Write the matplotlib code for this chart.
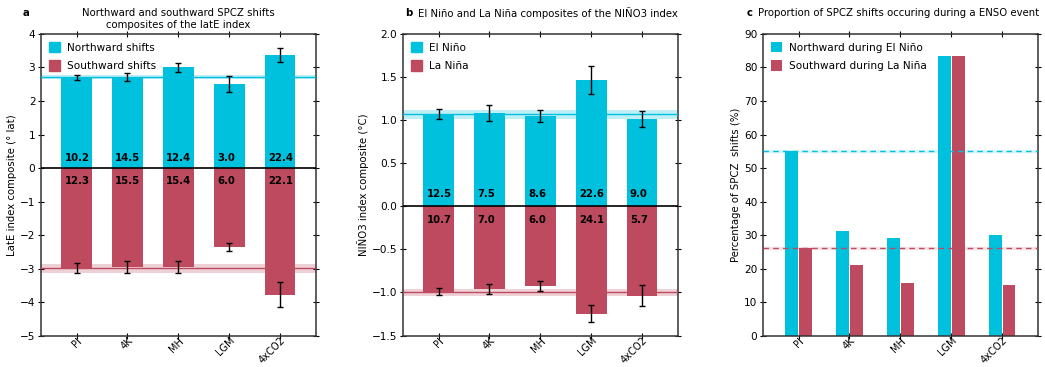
import numpy as np
import matplotlib.pyplot as plt
from matplotlib.patches import Patch

exps = ["PI", "4K", "MH", "LGM", "4xCO2"]

# panel a: latE index composites
late_north = [2.71, 2.71, 3.01, 2.51, 3.37]
late_north_err = [0.08, 0.12, 0.13, 0.25, 0.21]
late_south = [-2.99, -2.95, -2.95, -2.35, -3.78]
late_south_err = [0.15, 0.19, 0.18, 0.12, 0.37]
late_north_freq = ["10.2", "14.5", "12.4", "3.0", "22.4"]
late_south_freq = ["12.3", "15.5", "15.4", "6.0", "22.1"]
late_north_pi, late_north_pi_err = 2.71, 0.065
late_south_pi, late_south_pi_err = -2.99, 0.14

# panel b: NINO3 composites
nino_pos = [1.068, 1.083, 1.049, 1.466, 1.014]
nino_pos_err = [0.058, 0.09, 0.065, 0.16, 0.093]
nino_neg = [-0.993, -0.958, -0.923, -1.245, -1.036]
nino_neg_err = [0.04, 0.06, 0.062, 0.1, 0.118]
nino_pos_freq = ["12.5", "7.5", "8.6", "22.6", "9.0"]
nino_neg_freq = ["10.7", "7.0", "6.0", "24.1", "5.7"]
nino_pos_pi, nino_pos_pi_err = 1.068, 0.055
nino_neg_pi, nino_neg_pi_err = -0.997, 0.04

# panel c: % of SPCZ shifts during ENSO events
pct_north = [55.0, 31.3, 29.2, 83.5, 30.1]
pct_south = [26.2, 21.1, 15.7, 83.5, 15.1]
pct_north_pi = 55.0
pct_south_pi = 26.1

blue = "#00c1dd"
red = "#bd4a5e"
fs = 7.3

x = np.arange(len(exps))
fig = plt.figure(figsize=(10.45, 3.67), dpi=100)
axa = fig.add_axes([0.0392, 0.0856, 0.263, 0.8218])
axb = fig.add_axes([0.3856, 0.0856, 0.263, 0.8218])
axc = fig.add_axes([0.7301, 0.0856, 0.263, 0.8218])


def style(ax):
    for s in ax.spines.values():
        s.set_color("#333333")
        s.set_linewidth(1.1)
    ax.tick_params(direction="inout", length=4, width=0.8, top=True, right=True,
                   labelsize=fs + 0.3, pad=2)
    ax.tick_params(axis="x", labelsize=fs - 0.2, pad=-2)
    ax.set_xticks(x)
    ax.set_xticklabels(exps, rotation=45, ha="right", rotation_mode="anchor")
    ax.set_xlim(-0.7, 4.7)


def composite(ax, up, uperr, dn, dnerr, upref, uprefe, dnref, dnrefe, upfreq, dnfreq, ytxt):
    ax.axhspan(upref - uprefe, upref + uprefe, color=blue, alpha=0.25, lw=0, zorder=1)
    ax.axhspan(dnref - dnrefe, dnref + dnrefe, color=red, alpha=0.25, lw=0, zorder=1)
    ax.bar(x, up, 0.6, color=blue, zorder=2)
    ax.bar(x, dn, 0.6, color=red, zorder=2)
    ax.axhline(upref, color=blue, lw=1, zorder=3)
    ax.axhline(dnref, color=red, lw=1, zorder=3)
    ax.errorbar(x, up, yerr=uperr, fmt="none", ecolor="black", elinewidth=1,
                capsize=2, capthick=1, zorder=4)
    ax.errorbar(x, dn, yerr=dnerr, fmt="none", ecolor="black", elinewidth=1,
                capsize=2, capthick=1, zorder=4)
    ax.axhline(0, color="black", lw=1.2, zorder=4)
    for i in range(len(x)):
        ax.text(x[i] - 0.24, ytxt[0], upfreq[i], fontsize=fs, fontweight="bold",
                ha="left", va="center", zorder=5)
        ax.text(x[i] - 0.24, ytxt[1], dnfreq[i], fontsize=fs, fontweight="bold",
                ha="left", va="center", zorder=5)


legend_kw = dict(loc="upper left", frameon=False, fontsize=fs + 0.3, handlelength=1.1,
                 handleheight=1.1, borderaxespad=0.35, labelspacing=0.75,
                 handletextpad=0.6)

composite(axa, late_north, late_north_err, late_south, late_south_err,
          late_north_pi, late_north_pi_err, late_south_pi, late_south_pi_err,
          late_north_freq, late_south_freq, (0.3, -0.4))
axa.set_ylim(-5, 4)
axa.set_yticks(np.arange(-5, 5, 1))
axa.set_ylabel("LatE index composite (° lat)", fontsize=fs, labelpad=2)
style(axa)
axa.legend(handles=[Patch(color=blue, label="Northward shifts"),
                    Patch(color=red, label="Southward shifts")], **legend_kw)

composite(axb, nino_pos, nino_pos_err, nino_neg, nino_neg_err,
          nino_pos_pi, nino_pos_pi_err, nino_neg_pi, nino_neg_pi_err,
          nino_pos_freq, nino_neg_freq, (0.14, -0.16))
axb.set_ylim(-1.5, 2.0)
axb.set_yticks(np.arange(-1.5, 2.01, 0.5))
axb.set_ylabel("NIÑO3 index composite (°C)", fontsize=fs, labelpad=2)
style(axb)
axb.legend(handles=[Patch(color=blue, label="El Niño"),
                    Patch(color=red, label="La Niña")], **legend_kw)

# panel c: paired bars with PI reference levels
bw = 0.25
axc.bar(x - 0.135, pct_north, bw, color=blue, zorder=2, label="Northward during El Niño")
axc.bar(x + 0.135, pct_south, bw, color=red, zorder=2, label="Southward during La Niña")
axc.axhline(pct_north_pi, color=blue, lw=2.5, alpha=0.15, zorder=1)
axc.axhline(pct_south_pi, color=red, lw=2.5, alpha=0.15, zorder=1)
axc.axhline(pct_north_pi, color=blue, lw=1, ls=(0, (4, 3)), zorder=3)
axc.axhline(pct_south_pi, color=red, lw=1, ls=(0, (4, 3)), zorder=3)
axc.set_ylim(0, 90)
axc.set_yticks(np.arange(0, 91, 10))
axc.set_ylabel("Percentage of SPCZ  shifts (%)", fontsize=fs, labelpad=2)
style(axc)
axc.legend(**legend_kw)

# panel titles
fig.text(0.022, 0.965, "a", fontsize=fs, fontweight="bold", va="center")
fig.text(0.1705, 0.949, "Northward and southward SPCZ shifts\ncomposites of the latE index",
         fontsize=fs, ha="center", va="center", linespacing=1.25)
fig.text(0.3875, 0.965, "b", fontsize=fs, fontweight="bold", va="center")
fig.text(0.4, 0.965, "El Niño and La Niña composites of the NIÑO3 index",
         fontsize=fs, va="center")
fig.text(0.7145, 0.965, "c", fontsize=fs, fontweight="bold", va="center")
fig.text(0.7255, 0.965, "Proportion of SPCZ shifts occuring during a ENSO event",
         fontsize=fs, va="center")

fig.savefig("out.png", dpi=100)
